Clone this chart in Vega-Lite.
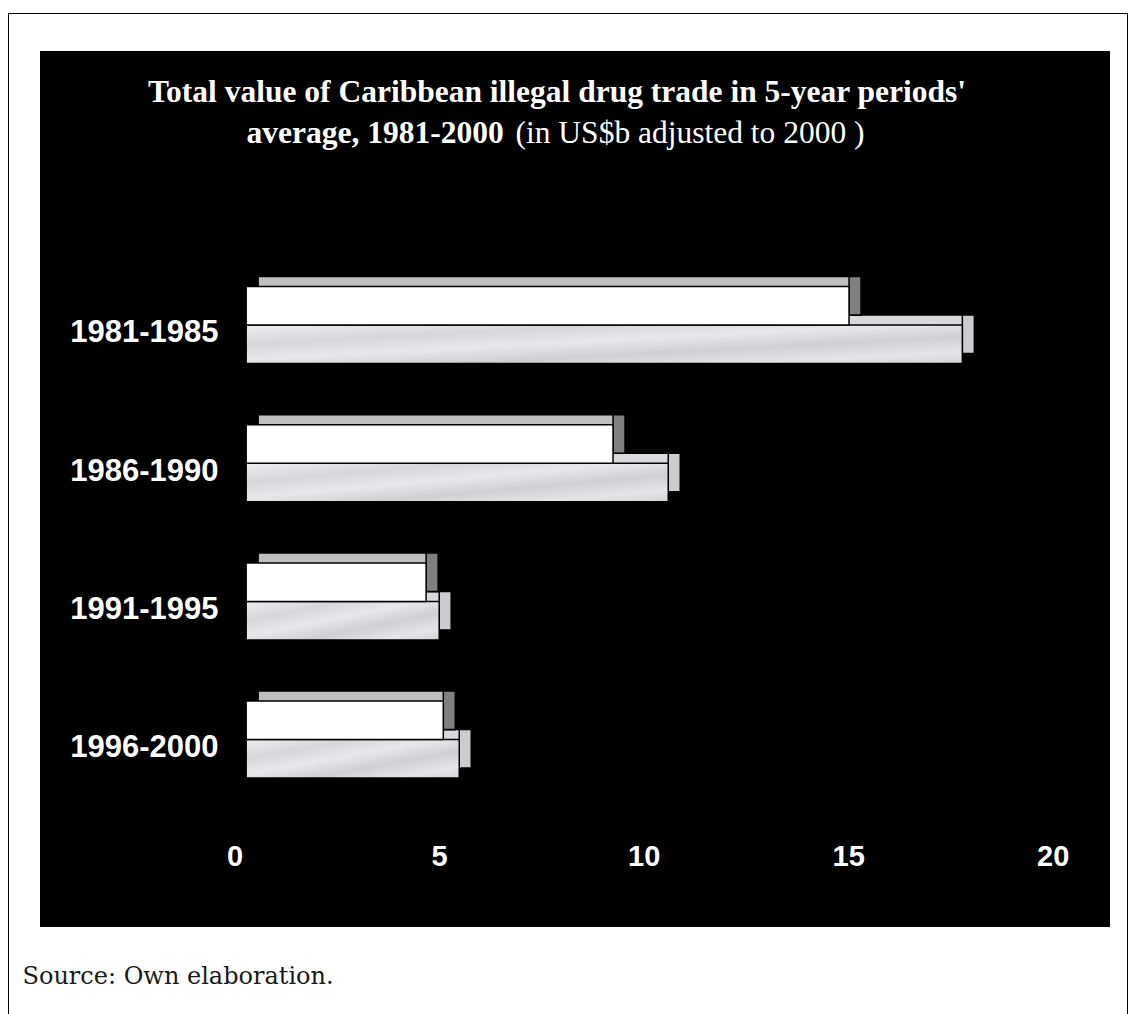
{
  "$schema": "https://vega.github.io/schema/vega-lite/v6.json",
  "autosize": "none",
  "width": 1070,
  "height": 876,
  "padding": {"left": 40, "top": 51, "right": 19, "bottom": 87},
  "background": "white",
  "config": {"view": {"fill": "black", "stroke": null}},
  "title": {
    "text": "Total value of Caribbean illegal drug trade in 5-year periods'",
    "orient": "top",
    "anchor": "middle",
    "frame": "group",
    "offset": -90,
    "baseline": "alphabetic",
    "dx": -18,
    "dy": 31,
    "color": "white",
    "font": "Liberation Serif",
    "fontSize": 31.5,
    "fontWeight": "bold"
  },
  "data": {
    "values": [
      {"period": "1981-1985", "series": "Series 1", "value": 14.74},
      {"period": "1981-1985", "series": "Series 2", "value": 17.51},
      {"period": "1986-1990", "series": "Series 1", "value": 8.97},
      {"period": "1986-1990", "series": "Series 2", "value": 10.32},
      {"period": "1991-1995", "series": "Series 1", "value": 4.40},
      {"period": "1991-1995", "series": "Series 2", "value": 4.72},
      {"period": "1996-2000", "series": "Series 1", "value": 4.82},
      {"period": "1996-2000", "series": "Series 2", "value": 5.21}
    ]
  },
  "resolve": {"axis": {"x": "independent"}},
  "encoding": {
    "y": {
      "field": "period",
      "type": "nominal",
      "sort": null,
      "scale": {"paddingInner": 0.443, "paddingOuter": 1, "range": [97.3, 865.3]},
      "axis": {
        "orient": "left",
        "offset": -178,
        "domain": false,
        "ticks": false,
        "grid": false,
        "labelPadding": 0,
        "labelAlign": "right",
        "labelBaseline": "middle",
        "labelOffset": 8.5,
        "labelColor": "white",
        "labelFont": "Liberation Sans",
        "labelFontWeight": "bold",
        "labelFontSize": 31,
        "labelLimit": 0,
        "title": "average, 1981-2000",
        "titleAngle": 0,
        "titleAlign": "left",
        "titleBaseline": "alphabetic",
        "titleX": 28,
        "titleY": 91,
        "titleColor": "white",
        "titleFont": "Liberation Serif",
        "titleFontSize": 31.5,
        "titleFontWeight": "bold"
      }
    }
  },
  "layer": [
    {
      "transform": [{"filter": "datum.series === 'Series 2'"}],
      "mark": {"type": "bar", "height": {"band": 0.5}, "fill": "#d9dadd", "stroke": "black", "strokeWidth": 1.5, "xOffset": 12, "x2Offset": 12, "yOffset": 9.25},
      "encoding": {
        "x": {
          "field": "value",
          "type": "quantitative",
          "scale": {"domain": [-5.04, 21.12], "nice": false, "zero": false},
          "axis": {
            "orient": "top",
            "domain": false,
            "ticks": false,
            "labels": false,
            "grid": false,
            "title": "Source: Own elaboration.",
            "titleX": -18,
            "titleY": 932,
            "titleAlign": "left",
            "titleAnchor": "start",
            "titleBaseline": "alphabetic",
            "titleColor": "#1a1a1a",
            "titleFont": "DejaVu Serif",
            "titleFontSize": 24,
            "titleFontWeight": "normal"
          }
        },
        "x2": {"datum": 0}
      }
    },
    {
      "transform": [{"filter": "datum.series === 'Series 2'"}],
      "mark": {"type": "bar", "height": {"band": 0.5}, "fill": "#caccd0", "stroke": "black", "strokeWidth": 1.5, "x2Offset": 12, "yOffset": 9.25},
      "encoding": {
        "x": {"field": "value", "type": "quantitative", "axis": null},
        "x2": {"field": "value"}
      }
    },
    {
      "transform": [{"filter": "datum.series === 'Series 2'"}],
      "mark": {
        "type": "bar",
        "height": {"band": 0.5},
        "yOffset": 19.25,
        "strokeWidth": 1.5,
        "fill": {
          "gradient": "linear",
          "x1": 0, "y1": 0, "x2": 1, "y2": 1,
          "stops": [
            {"offset": 0, "color": "#eceef1"},
            {"offset": 0.25, "color": "#d6d7db"},
            {"offset": 0.45, "color": "#e7e8eb"},
            {"offset": 0.65, "color": "#cfd0d4"},
            {"offset": 0.85, "color": "#e4e5e8"},
            {"offset": 1, "color": "#d3d4d8"}
          ]
        }
      },
      "encoding": {
        "x": {"field": "value", "type": "quantitative", "axis": null},
        "x2": {"datum": 0},
        "stroke": {
          "field": "value",
          "type": "quantitative",
          "scale": {"range": ["black", "black"]},
          "legend": {
            "orient": "none",
            "legendX": -32,
            "legendY": -38,
            "direction": "horizontal",
            "gradientLength": 1119,
            "gradientThickness": 1020,
            "gradientOpacity": 0,
            "padding": 0,
            "strokeColor": "black",
            "title": null,
            "values": [10],
            "labelExpr": "''",
            "labelOpacity": 0,
            "labelFontSize": 1,
            "labelOffset": 0
          }
        }
      }
    },
    {
      "transform": [{"filter": "datum.series === 'Series 1'"}],
      "mark": {"type": "bar", "height": {"band": 0.5}, "fill": "#c0c0c0", "stroke": "black", "strokeWidth": 1.5, "xOffset": 12, "x2Offset": 12, "yOffset": -29.25},
      "encoding": {
        "x": {"field": "value", "type": "quantitative", "axis": null},
        "x2": {"datum": 0}
      }
    },
    {
      "transform": [{"filter": "datum.series === 'Series 1'"}],
      "mark": {"type": "bar", "height": {"band": 0.5}, "fill": "#808080", "stroke": "black", "strokeWidth": 1.5, "x2Offset": 12, "yOffset": -29.25},
      "encoding": {
        "x": {"field": "value", "type": "quantitative", "axis": null},
        "x2": {"field": "value"}
      }
    },
    {
      "transform": [{"filter": "datum.series === 'Series 1'"}],
      "mark": {"type": "bar", "height": {"band": 0.5}, "fill": "white", "stroke": "black", "strokeWidth": 1.5, "yOffset": -19.25},
      "encoding": {
        "x": {
          "field": "value",
          "type": "quantitative",
          "axis": {
            "orient": "bottom",
            "offset": -71,
            "values": [0, 5, 10, 15, 20],
            "domain": false,
            "ticks": false,
            "grid": false,
            "labelPadding": 0,
            "labelBaseline": "middle",
            "labelOffset": -11.5,
            "labelFlush": false,
            "labelColor": "white",
            "labelFont": "Liberation Sans",
            "labelFontWeight": "bold",
            "labelFontSize": 29,
            "title": "(in US$b adjusted to 2000 )",
            "titleX": 475,
            "titleY": -714,
            "titleAlign": "left",
            "titleAnchor": "start",
            "titleBaseline": "alphabetic",
            "titleColor": "white",
            "titleFont": "Liberation Serif",
            "titleFontSize": 31.5,
            "titleFontWeight": "normal"
          }
        },
        "x2": {"datum": 0}
      }
    }
  ]
}
